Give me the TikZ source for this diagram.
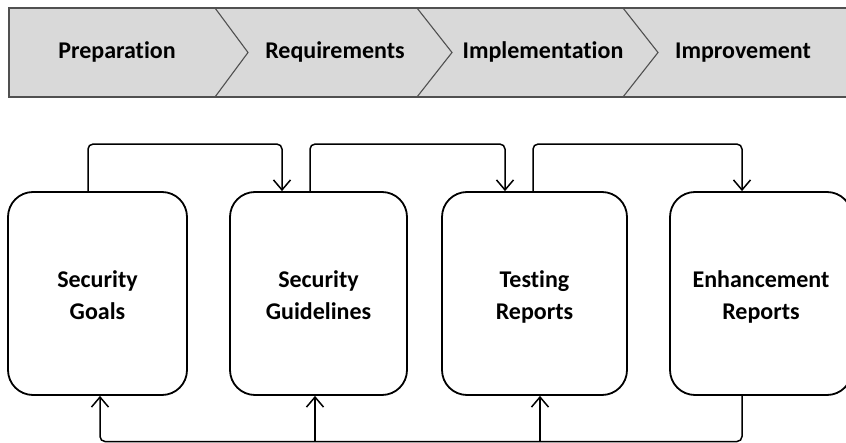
\documentclass[tikz,border=0pt]{standalone}
\usepackage{fontspec}
\setmainfont{Carlito}[RawFeature=-liga]
\usetikzlibrary{arrows.meta,calc}
\definecolor{barfill}{HTML}{D9D9D9}
\definecolor{barline}{HTML}{505050}
\begin{document}
\begin{tikzpicture}[x=1pt,y=-1pt,
  stagetxt/.style={font=\fontsize{24}{30}\selectfont\bfseries, text=black,
    text height=16pt, text depth=5pt},
  docbox/.style={draw=black, line width=1.8pt, rounded corners=25pt, fill=white,
    minimum height=203pt, align=center, inner sep=0pt,
    text height=58pt, text depth=5pt,
    font=\fontsize{24}{32}\selectfont\bfseries},
  arr/.style={draw=black, line width=1.5pt, rounded corners=5pt,
    -{Straight Barb[length=10pt,width=17pt,line width=1.5pt]}},
  divider/.style={draw=barline, line width=1.1pt}]
\useasboundingbox (0,0) rectangle (846,443);

% top chevron bar
\fill[barfill] (9,8) rectangle (850,97);
\draw[divider] (215,8) -- (248,52.5) -- (215,97);
\draw[divider] (417,8) -- (452,52.5) -- (417,97);
\draw[divider] (623,8) -- (658,52.5) -- (623,97);
\draw[barline, line width=2pt] (850,8) -- (9,8) -- (9,97) -- (850,97);

\node[stagetxt] (s1) at (117,53) {Preparation};
\node[stagetxt] (s2) at (335,53) {Requirements};
\node[stagetxt] (s3) at (543,53) {Implementation};
\node[stagetxt] (s4) at (743,53) {Improvement};

% document boxes
\node[docbox, minimum width=179pt] (g1) at (97.5,293.5) {Security\\Goals};
\node[docbox, minimum width=177pt] (g2) at (318.5,293.5) {Security\\Guidelines};
\node[docbox, minimum width=185pt] (g3) at (534.5,293.5) {Testing\\Reports};
\node[docbox, minimum width=182pt] (g4) at (761,293.5) {Enhancement\\Reports};

% forward connectors over the top
\draw[arr] ([xshift=-9.5pt]g1.north) -- ++(0,-47) -| ([xshift=-36.5pt]g2.north);
\draw[arr] ([xshift=-8.5pt]g2.north) -- ++(0,-47) -| ([xshift=-29.5pt]g3.north);
\draw[arr] ([xshift=-1.5pt]g3.north) -- ++(0,-47) -| ([xshift=-19pt]g4.north);

% feedback connectors along the bottom
\coordinate (b1) at ([xshift=2.5pt]g1.south);
\coordinate (b2) at ([xshift=-3.5pt]g2.south);
\coordinate (b3) at ([xshift=5.5pt]g3.south);
\coordinate (b4) at ([xshift=-19pt]g4.south);
\coordinate (bot) at (0,441.5);
\draw[arr] (b4) -- (b4 |- bot) -| (b1);
\draw[arr] (b2 |- bot) -- (b2);
\draw[arr] (b3 |- bot) -- (b3);
\end{tikzpicture}
\end{document}
